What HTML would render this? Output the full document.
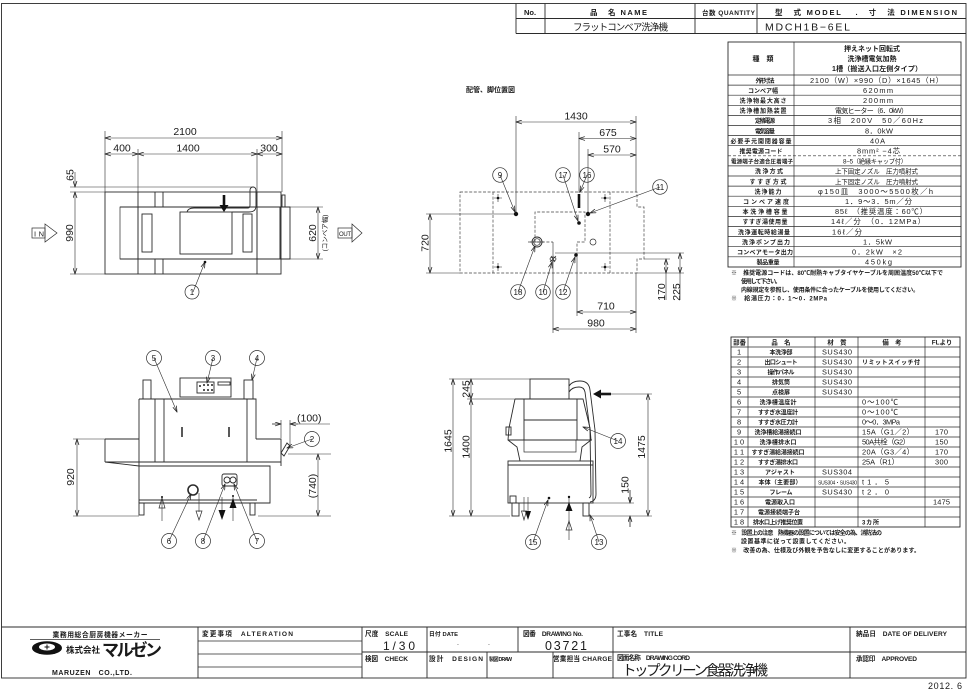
<!DOCTYPE html>
<html><head><meta charset="utf-8">
<style>
html,body{margin:0;padding:0;background:#fff;}
svg{display:block}
.l{stroke:#2b2b2b;stroke-width:.9;fill:none}
.t{stroke:#2b2b2b;stroke-width:.7;fill:none}
.dm{stroke:#2b2b2b;stroke-width:.6;fill:none}
.ds{stroke:#444;stroke-width:.7;fill:none;stroke-dasharray:3 1.6}
text{font-family:"Liberation Sans","Noto Sans CJK JP",sans-serif;fill:#1a1a1a}
.d{font-size:10.5px}
.k{font-size:6px;font-weight:bold}
.v{font-size:7.4px}
.p{font-size:6.4px;font-weight:bold}
.n{font-size:7.4px}
.bl{font-size:8px}
.e{font-size:6.6px;font-weight:bold}
</style></head>
<body>
<svg width="969" height="692" viewBox="0 0 969 692" xmlns="http://www.w3.org/2000/svg">
<defs>
<marker id="a" viewBox="0 0 8 6" refX="8" refY="3" markerWidth="7" markerHeight="4.5" markerUnits="userSpaceOnUse" orient="auto-start-reverse"><path d="M0,0.4 L8,3 L0,5.6" fill="none" stroke="#222" stroke-width="1"/></marker>
<pattern id="m1" width="3" height="3" patternUnits="userSpaceOnUse"><path d="M0,0.5H3M0.5,0V3" stroke="#444" stroke-width="0.5"/></pattern>
<pattern id="m2" width="4" height="4" patternUnits="userSpaceOnUse"><path d="M0,0.5H4M0.5,0V4" stroke="#444" stroke-width="0.5"/></pattern>
</defs>

<!-- frame -->
<rect x="1.5" y="3.5" width="964.5" height="674.5" class="l"/>

<!-- header table -->
<path class="l" d="M516,3.5 V33.5 M545,3.5 V33.5 M695,3.5 V33.5 M757,3.5 V33.5 M516,18.5 H966 M516,33.5 H966"/>
<text x="530" y="15" font-size="7.5" font-weight="bold" text-anchor="middle">No.</text>
<text x="590" y="15" font-size="7.5" font-weight="bold" textLength="57">品　名 NAME</text>
<text x="702" y="15" font-size="6.5" font-weight="bold" textLength="53">台数 QUANTITY</text>
<text x="775" y="15" font-size="7.5" font-weight="bold" textLength="182">型　式 MODEL　 .　寸　法 DIMENSION</text>
<text x="573" y="30.5" font-size="9.5" textLength="95">フラットコンベア洗浄機</text>
<text x="765" y="30.5" font-size="10.5" textLength="85">MDCH1B−6EL</text>

<!-- spec table -->
<rect x="728" y="42" width="233" height="225" class="l"/>
<path class="t" d="M794,42 V267 M728,75 H961 M728,85.1 H961 M728,95.2 H961 M728,105.3 H961 M728,115.4 H961 M728,125.5 H961 M728,135.6 H961 M728,145.7 H961 M728,165.9 H961 M728,176 H961 M728,186.1 H961 M728,196.2 H961 M728,206.3 H961 M728,216.4 H961 M728,226.5 H961 M728,236.6 H961 M728,246.7 H961 M728,256.8 H961"/>
<path d="M728,155.8 H961" stroke="#2b2b2b" stroke-width=".7" stroke-dasharray="3 2"/>
<text x="763" y="61" font-size="7" font-weight="bold" text-anchor="middle">種　類</text>
<text x="872" y="51" font-size="7" font-weight="bold" text-anchor="middle">押えネット回転式</text>
<text x="872" y="61" font-size="7" font-weight="bold" text-anchor="middle">洗浄槽電気加熱</text>
<text x="877" y="71" font-size="7" font-weight="bold" text-anchor="middle" textLength="90">1槽（搬送入口左側タイプ）</text>

<g class="k" text-anchor="middle">
<text x="765" y="82.8" textLength="19">外形寸法</text>
<text x="763" y="92.9" textLength="30">コンベア幅</text>
<text x="763" y="103" textLength="47">洗浄物最大高さ</text>
<text x="763" y="113.1" textLength="47">洗浄槽加熱装置</text>
<text x="765" y="123.2" textLength="20">定格電源</text>
<text x="765" y="133.3" textLength="20">電気容量</text>
<text x="761" y="143.4" textLength="61">必要手元開閉器容量</text>
<text x="761" y="153.5" textLength="43">推奨電源コード</text>
<text x="762" y="163.6" textLength="62" font-size="5.5">電源端子台適合圧着端子</text>
<text x="769" y="173.7" textLength="28">洗浄方式</text>
<text x="768" y="183.8" textLength="37">すすぎ方式</text>
<text x="768" y="193.9" textLength="27">洗浄能力</text>
<text x="766" y="204" textLength="46">コンベア速度</text>
<text x="765" y="214.1" textLength="45">本洗浄槽容量</text>
<text x="765" y="224.2" textLength="45">すすぎ湯使用量</text>
<text x="764" y="234.3" textLength="52">洗浄運転時給湯量</text>
<text x="766" y="244.4" textLength="48">洗浄ポンプ出力</text>
<text x="765" y="254.5" textLength="56">コンベアモータ出力</text>
<text x="768" y="264.6" textLength="23">製品重量</text>
</g>
<g class="v">
<text x="810" y="82.8" textLength="133">2100（W）×990（D）×1645（H）</text>
<text x="863" y="92.9" textLength="30">620mm</text>
<text x="863" y="103" textLength="30">200mm</text>
<text x="835" y="113.1" textLength="73" font-size="7">電気ヒーター（6．0kW）</text>
<text x="828" y="123.2" textLength="95">3相　200V　50／60Hz</text>
<text x="865" y="133.3" textLength="28">8．0kW</text>
<text x="870" y="143.4" textLength="15">40A</text>
<text x="857" y="153.5" textLength="43">8mm² −4芯</text>
<text x="843" y="163.6" textLength="64" font-size="6.3">8−5（絶縁キャップ付）</text>
<text x="835" y="173.7" textLength="83" font-size="6.5">上下固定ノズル　圧力噴射式</text>
<text x="835" y="183.8" textLength="83" font-size="6.5">上下固定ノズル　圧力噴射式</text>
<text x="818" y="193.9" textLength="115">φ150皿　3000〜5500枚／h</text>
<text x="845" y="204" textLength="67">1．9〜3．5m／分</text>
<text x="835" y="214.1" textLength="92">85ℓ　（推奨温度：60℃）</text>
<text x="831" y="224.2" textLength="94">14ℓ／分　（0．12MPa）</text>
<text x="832" y="234.3" textLength="30">16ℓ／分</text>
<text x="863" y="244.4" textLength="29">1．5kW</text>
<text x="852" y="254.5" textLength="50">0．2kW　×2</text>
<text x="865" y="264.6" textLength="27">450kg</text>
</g>
<g class="k">
<text x="731" y="275" textLength="212">※　推奨電源コードは、80℃耐熱キャブタイヤケーブルを周囲温度50℃以下で</text>
<text x="741" y="283.5" textLength="40">使用して下さい。</text>
<text x="741" y="292" textLength="178">内線規定を参照し、使用条件に合ったケーブルを使用してください。</text>
<text x="731" y="300.5" textLength="96">※　給湯圧力：0．1〜0．2MPa</text>
</g>

<!-- parts table -->
<rect x="731" y="337" width="229" height="190" class="l"/>
<path class="t" d="M748,337 V527 M815,337 V527 M858,337 V527 M925,337 V527 M731,347 H960 M731,357 H960 M731,367 H960 M731,377 H960 M731,387 H960 M731,397 H960 M731,407 H960 M731,417 H960 M731,427 H960 M731,437 H960 M731,447 H960 M731,457 H960 M731,467 H960 M731,477 H960 M731,487 H960 M731,497 H960 M731,507 H960 M731,517 H960"/>
<g class="p" text-anchor="middle">
<text x="739.5" y="344.6">部番</text><text x="781" y="344.6">品　名</text><text x="837" y="344.6">材　質</text><text x="892" y="344.6">備　考</text><text x="942" y="344.6">FLより</text>
</g>
<g class="n" text-anchor="middle">
<text x="739" y="354.6">1</text><text x="739" y="364.6">2</text><text x="739" y="374.6">3</text><text x="739" y="384.6">4</text><text x="739" y="394.6">5</text><text x="739" y="404.6">6</text><text x="739" y="414.6">7</text><text x="739" y="424.6">8</text><text x="739" y="434.6">9</text>
<text x="739" y="444.6">1 0</text><text x="739" y="454.6">1 1</text><text x="739" y="464.6">1 2</text><text x="739" y="474.6">1 3</text><text x="739" y="484.6">1 4</text><text x="739" y="494.6">1 5</text><text x="739" y="504.6">1 6</text><text x="739" y="514.6">1 7</text><text x="739" y="524.6">1 8</text>
</g>
<g class="k" text-anchor="middle">
<text x="781" y="354.6" textLength="23">本洗浄部</text>
<text x="781" y="364.6" textLength="33">出口シュート</text>
<text x="781" y="374.6" textLength="27">操作パネル</text>
<text x="781" y="384.6" textLength="18">排気筒</text>
<text x="781" y="394.6" textLength="18">点検扉</text>
<text x="778" y="404.6" textLength="37">洗浄槽温度計</text>
<text x="778" y="414.6" textLength="40">すすぎ水温度計</text>
<text x="778" y="424.6" textLength="40">すすぎ水圧力計</text>
<text x="778" y="434.6" textLength="47">洗浄槽給湯接続口</text>
<text x="778" y="444.6" textLength="37">洗浄槽排水口</text>
<text x="778" y="454.6" textLength="53">すすぎ湯給湯接続口</text>
<text x="778" y="464.6" textLength="40">すすぎ湯排水口</text>
<text x="780" y="474.6" textLength="30">アジャスト</text>
<text x="780" y="484.6" textLength="43">本体（主要部）</text>
<text x="781" y="494.6" textLength="23">フレーム</text>
<text x="780" y="504.6" textLength="30">電源取入口</text>
<text x="779" y="514.6" textLength="42">電源接続端子台</text>
<text x="778" y="524.6" textLength="50">排水口上げ推奨位置</text>
</g>
<g class="n">
<text x="822" y="354.6" textLength="30">SUS430</text>
<text x="822" y="364.6" textLength="30">SUS430</text>
<text x="822" y="374.6" textLength="30">SUS430</text>
<text x="822" y="384.6" textLength="30">SUS430</text>
<text x="822" y="394.6" textLength="30">SUS430</text>
<text x="822" y="474.6" textLength="30">SUS304</text>
<text x="818" y="484.6" textLength="39" font-size="5">SUS304・SUS430</text>
<text x="822" y="494.6" textLength="30">SUS430</text>
<text x="862" y="364.6" textLength="58" class="k">リミットスイッチ付</text>
<text x="862" y="404.6" textLength="36">0〜100℃</text>
<text x="862" y="414.6" textLength="36">0〜100℃</text>
<text x="862" y="424.6" textLength="38">0〜0．3MPa</text>
<text x="862" y="434.6" textLength="52">15A（G1／2）</text>
<text x="862" y="444.6" textLength="48">50A共栓（G2）</text>
<text x="862" y="454.6" textLength="52">20A（G3／4）</text>
<text x="862" y="464.6" textLength="37">25A（R1）</text>
<text x="862" y="484.6" textLength="27">t1．5</text>
<text x="862" y="494.6" textLength="27">t2．0</text>
<text x="862" y="524.6" textLength="17" class="k">3カ所</text>
<text x="935" y="434.6" textLength="13">170</text>
<text x="935" y="444.6" textLength="13">150</text>
<text x="935" y="454.6" textLength="13">170</text>
<text x="935" y="464.6" textLength="13">300</text>
<text x="933" y="504.6" textLength="17">1475</text>
</g>
<g class="k">
<text x="731" y="535" textLength="151">※　設置上の注意　熱機器の設置については安全の為、消防法の</text>
<text x="741" y="543.5" textLength="109">設置基準に従って設置してください。</text>
<text x="731" y="552.5" textLength="189">※　改善の為、仕様及び外観を予告なしに変更することがあります。</text>
</g>

<!-- ============ TOP-LEFT PLAN VIEW ============ -->
<path class="dm" d="M105,131 V192 M282,131 V192 M138,149 V192 M257,149 V192 M70,187 H253 M70,192 H105 M70,274 H105 M290,207 H323 M290,259 H323"/>
<path class="dm" d="M105,138 H282" marker-start="url(#a)" marker-end="url(#a)"/>
<path class="dm" d="M105,154 H138" marker-start="url(#a)" marker-end="url(#a)"/>
<path class="dm" d="M138,154 H257" marker-start="url(#a)" marker-end="url(#a)"/>
<path class="dm" d="M257,154 H282" marker-start="url(#a)" marker-end="url(#a)"/>
<path class="dm" d="M75,172 V187" marker-end="url(#a)"/>
<path class="dm" d="M75,192 V274" marker-start="url(#a)" marker-end="url(#a)"/>
<path class="dm" d="M318,207 V259" marker-start="url(#a)" marker-end="url(#a)"/>
<text class="d" x="185" y="135" text-anchor="middle">2100</text>
<text class="d" x="122" y="151.5" text-anchor="middle">400</text>
<text class="d" x="188" y="151.5" text-anchor="middle">1400</text>
<text class="d" x="269" y="151.5" text-anchor="middle">300</text>
<text class="d" transform="translate(73.5,175) rotate(-90)" text-anchor="middle">65</text>
<text class="d" transform="translate(73,233) rotate(-90)" text-anchor="middle">990</text>
<text class="d" transform="translate(316,233) rotate(-90)" text-anchor="middle">620</text>
<text transform="translate(327,233) rotate(-90)" text-anchor="middle" font-size="6.5">(コンベア幅)</text>

<rect x="120" y="207" width="18" height="52" fill="url(#m1)" class="t"/>
<rect x="257" y="207" width="23" height="52" fill="url(#m1)" class="t"/>
<g class="l">
<rect x="105" y="192" width="176" height="82"/>
<path d="M138,192 V274 M257,192 V274 M155,192 V207 M163,192 V207 M155,259 V274 M163,259 V274 M120,207 H290 M120,259 H290"/>
<rect x="280" y="207" width="10" height="52"/>
<rect x="282" y="195" width="3" height="12"/>
<rect x="142" y="214" width="10" height="38"/>
<rect x="243" y="214" width="9" height="38"/>
<rect x="180" y="212" width="52" height="42"/>
<path d="M187,212 Q188,208 194,208 L248,208 Q250,208 250,205 L250,190 A3,3 0 0 1 256,190 L256,206 Q256,212 249,212 L232,212"/>
</g>
<path d="M224,195 V207" stroke="#111" stroke-width="2.6"/>
<path d="M219.5,205 L228.5,205 L224,212 Z" fill="#111"/>
<!-- IN / OUT -->
<rect x="32" y="228" width="13" height="10" class="t"/>
<path d="M45,224 L57,233 L45,242 Z" class="t" fill="#fff"/>
<text x="34" y="236.5" font-size="7.5" textLength="10">IN</text>
<rect x="338" y="228" width="14" height="10" class="t"/>
<path d="M352,224 L362,233 L352,242 Z" class="t" fill="#fff"/>
<text x="339" y="236" font-size="6" textLength="12">OUT</text>
<!-- balloon 1 -->
<path class="dm" d="M193,292 L205,262" marker-end="url(#a)"/>
<circle cx="205" cy="262" r="1.3" fill="#111"/>
<circle cx="192" cy="292" r="7" fill="#fff" class="t"/>
<text class="bl" x="192" y="295" text-anchor="middle">1</text>

<!-- ============ PIPING PLAN ============ -->
<text x="466" y="92" font-size="7" font-weight="bold">配管、脚位置図</text>
<path class="ds" d="M460,192 H637 V207 H644 V259 H637 V273 H460 Z M493,192 V273 M610,192 V273"/>
<path class="ds" d="M535,242 V212 H585 V242 H577 V253 M528,242 H553"/>
<path class="dm" d="M516,116 V214 M579,132 V193 M588,149 V214 M636,116 V192 M636,273 V333 M553,242 V333 M577,253 V316 M426,214 H516 M426,273 H460 M555,253 H684 M644,259 H670 M637,273 H684 M666,273 V300 M680,273 V300"/>
<path class="dm" d="M516,122 H636" marker-start="url(#a)" marker-end="url(#a)"/>
<path class="dm" d="M579,138.5 H636" marker-start="url(#a)" marker-end="url(#a)"/>
<path class="dm" d="M588,155 H636" marker-start="url(#a)" marker-end="url(#a)"/>
<path class="dm" d="M577,312 H636" marker-start="url(#a)" marker-end="url(#a)"/>
<path class="dm" d="M553,329 H636" marker-start="url(#a)" marker-end="url(#a)"/>
<path class="dm" d="M430,214 V273" marker-start="url(#a)" marker-end="url(#a)"/>
<path class="dm" d="M666,259 V273" marker-start="url(#a)" marker-end="url(#a)"/>
<path class="dm" d="M680,253 V273" marker-start="url(#a)" marker-end="url(#a)"/>
<text class="d" x="576" y="119.5" text-anchor="middle">1430</text>
<text class="d" x="608" y="136" text-anchor="middle">675</text>
<text class="d" x="612" y="152.5" text-anchor="middle">570</text>
<text class="d" x="606" y="309.5" text-anchor="middle">710</text>
<text class="d" x="596" y="326.5" text-anchor="middle">980</text>
<text class="d" transform="translate(428.5,243) rotate(-90)" text-anchor="middle">720</text>
<text class="d" transform="translate(665,292) rotate(-90)" text-anchor="middle">170</text>
<text class="d" transform="translate(680,292) rotate(-90)" text-anchor="middle">225</text>
<!-- legs -->
<g class="dm">
<path d="M494,198 H502 M498,194 V202 M601,198 H609 M605,194 V202 M494,267 H502 M498,263 V271 M601,267 H609 M605,263 V271"/>
</g>
<circle cx="498" cy="198" r="1.3" fill="#111"/><circle cx="605" cy="198" r="1.3" fill="#111"/><circle cx="498" cy="267" r="1.3" fill="#111"/><circle cx="605" cy="267" r="1.3" fill="#111"/>
<circle cx="516" cy="214" r="2.2" fill="#111"/>
<circle cx="588" cy="214" r="2.2" fill="#111"/>
<circle cx="579" cy="223" r="1.8" fill="#111"/>
<path d="M579,194 V208" stroke="#111" stroke-width="2.6"/>
<circle cx="537" cy="242" r="5" class="l"/><circle cx="537" cy="242" r="3.3" class="t"/>
<path class="dm" d="M530,242 H544"/>
<circle cx="593" cy="242" r="3" class="t"/>
<circle cx="576" cy="255" r="1.8" fill="#111"/>
<ellipse cx="553" cy="259" rx="3" ry="2" class="t"/><path class="t" d="M550,262 L556,256 M551,256 L555,262"/>
<!-- leaders -->
<path class="dm" d="M500,175 L515,212" marker-end="url(#a)"/>
<path class="dm" d="M563,175 L578,221" marker-end="url(#a)"/>
<path class="dm" d="M587,175 L580,192" marker-end="url(#a)"/>
<path class="dm" d="M660,187 L590,213" marker-end="url(#a)"/>
<path class="dm" d="M518,292 L535,246" marker-end="url(#a)"/>
<path class="dm" d="M543,292 L552,262" marker-end="url(#a)"/>
<path class="dm" d="M563,292 L575,257" marker-end="url(#a)"/>
<g class="t" fill="#fff">
<circle cx="500" cy="175" r="7.3"/><circle cx="563" cy="175" r="7.3"/><circle cx="587" cy="175" r="7.3"/><circle cx="660" cy="187" r="7.3"/><circle cx="518" cy="292" r="7.3"/><circle cx="543" cy="292" r="7.3"/><circle cx="563" cy="292" r="7.3"/>
</g>
<g class="bl" text-anchor="middle">
<text x="500" y="178">9</text><text x="563" y="178">17</text><text x="587" y="178">16</text><text x="660" y="190">11</text><text x="518" y="295">18</text><text x="543" y="295">10</text><text x="563" y="295">12</text>
</g>

<!-- ============ FRONT VIEW ============ -->
<g class="l">
<rect x="180" y="378" width="51" height="19"/>
<rect x="197" y="382" width="17" height="11"/>
<rect x="218" y="382" width="12" height="3"/>
<rect x="143" y="380" width="8" height="19"/>
<rect x="244" y="380" width="9" height="19"/>
<path d="M139,399 H256 V439 M139,399 V503 M105,439 H139 M256,439 H281 V466 M105,439 V462 M105,462 H281 M105,462 L139,466 M139,466 H270 V503 H139 M139,500 H257"/>
<path d="M155,399 V462 M164,399 V462 M247,399 V462"/>
<rect x="139" y="503" width="5" height="12"/>
<rect x="250" y="503" width="5" height="12"/>
<rect x="222" y="474" width="15" height="12" rx="2"/>
<circle cx="227" cy="480" r="3"/><circle cx="233" cy="480" r="3"/>
<circle cx="193" cy="490" r="5" stroke-width="1.6"/>
<path d="M281,453 L287,443 L290,446 L284,456 Z"/>
</g>
<g fill="#222"><circle cx="200" cy="386" r="1"/><circle cx="204" cy="385" r="1"/><circle cx="208" cy="385" r="1"/><circle cx="212" cy="385" r="1"/><circle cx="204" cy="390" r="1"/><circle cx="208" cy="390" r="1"/><circle cx="212" cy="390" r="1"/></g>
<path d="M182,427 V437 M229,427 V437" stroke="#222" stroke-width="1.5"/>
<!-- bottom arrows -->
<path class="dm" d="M162,497 V521 M199,493 V512 M222,497 V512 M233,497 V521"/>
<path d="M162,498 L159,508 L165,508 Z" fill="#fff" class="t"/>
<path d="M199,520 L196,511 L202,511 Z" fill="#fff" class="t"/>
<path d="M222,520 L218.5,510 L225.5,510 Z" fill="#111"/>
<path d="M233,498 L229.5,508 L236.5,508 Z" fill="#111"/>
<circle cx="162" cy="497" r="1" fill="#111"/><circle cx="233" cy="496" r="1" fill="#111"/>
<!-- dims -->
<path class="dm" d="M73,439 H105 M73,516 H139 M258,516 H331 M288,454 H331 M281,420 V438 M290,420 V446 M272,424 H281 M290,424 H330"/>
<path class="dm" d="M77,439 V516" marker-start="url(#a)" marker-end="url(#a)"/>
<path class="dm" d="M318,454 V516" marker-start="url(#a)" marker-end="url(#a)"/>
<path class="dm" d="M272,424 H281" marker-end="url(#a)"/>
<path class="dm" d="M298,424 H290" marker-end="url(#a)"/>
<text class="d" transform="translate(74,477) rotate(-90)" text-anchor="middle">920</text>
<text class="d" transform="translate(316,486) rotate(-90)" text-anchor="middle">(740)</text>
<text class="d" x="297" y="421.5">(100)</text>
<!-- leaders & balloons -->
<path class="dm" d="M154,358 L177,412" marker-end="url(#a)"/>
<path class="dm" d="M213,358 L207,383" marker-end="url(#a)"/>
<path class="dm" d="M257,358 L252,380" marker-end="url(#a)"/>
<path class="dm" d="M312,439 L287,448" marker-end="url(#a)"/>
<path class="dm" d="M169,541 L191,494" marker-end="url(#a)"/>
<path class="dm" d="M203,541 L225,484" marker-end="url(#a)"/>
<path class="dm" d="M257,541 L234,484" marker-end="url(#a)"/>
<g class="t" fill="#fff">
<circle cx="154" cy="358" r="7.5"/><circle cx="213" cy="358" r="7.5"/><circle cx="257" cy="358" r="7.5"/><circle cx="312" cy="439" r="7.5"/><circle cx="169" cy="541" r="7.5"/><circle cx="203" cy="541" r="7.5"/><circle cx="257" cy="541" r="7.5"/>
</g>
<g class="bl" text-anchor="middle">
<text x="154" y="361">5</text><text x="213" y="361">3</text><text x="257" y="361">4</text><text x="312" y="442">2</text><text x="169" y="544">6</text><text x="203" y="544">8</text><text x="257" y="544">7</text>
</g>

<!-- ============ SIDE VIEW ============ -->
<rect x="524" y="440" width="52" height="12" fill="url(#m2)" class="t"/>
<g class="l">
<rect x="530" y="379" width="39" height="20"/>
<path d="M515,399 H583 L590,428 L591,440 L582,447 L580,461 M515,399 L509,428 L508,440 L517,447 L520,461 M508,440 H592"/>
<path d="M524,399 V440 M577,399 V440 M524,420 H577"/>
<rect x="508" y="461" width="85" height="42"/>
<path d="M508,465 H593"/>
<rect x="512" y="503" width="7" height="13"/>
<rect x="583" y="503" width="6" height="13"/>
<rect x="510" y="496" width="6" height="7"/>
<rect x="506" y="427" width="5" height="8"/>
<path d="M569,386 Q572,381 580,381 Q589,381 590,390 L595,430 L596,494 Q596,501 590,502"/>
<path d="M569,392 Q572,387 579,387 Q584,387 585,392 L590,430 L591,494 Q591,497 589,498"/>
</g>
<path d="M611,394 H600" stroke="#111" stroke-width="2.6"/>
<path d="M593,394 L601,389.5 L601,398.5 Z" fill="#111"/>
<circle cx="549" cy="498" r="1.3" fill="#111"/>
<!-- arrows -->
<path class="dm" d="M524,497 V512 M528,497 V512 M569,497 V540"/>
<path d="M524,520 L521.5,511 L526.5,511 Z" fill="#fff" class="t"/>
<path d="M528,520 L525,511 L531,511 Z" fill="#111"/>
<path d="M569,502 L565.5,511 L572.5,511 Z" fill="#111"/>
<path d="M569,521 L566,530 L572,530 Z" fill="#fff" class="t"/>
<circle cx="569" cy="497" r="1.2" fill="#111"/>
<!-- dims -->
<path class="dm" d="M449,379 H530 M467,399 H515 M449,516 H510 M600,394 H652 M593,503 H634 M590,516 H652 M630,490 V503 M630,516 V527"/>
<path class="dm" d="M453,379 V516" marker-start="url(#a)" marker-end="url(#a)"/>
<path class="dm" d="M471,379 V399" marker-start="url(#a)" marker-end="url(#a)"/>
<path class="dm" d="M471,399 V516" marker-start="url(#a)" marker-end="url(#a)"/>
<path class="dm" d="M648,394 V516" marker-start="url(#a)" marker-end="url(#a)"/>
<path class="dm" d="M630,490 V503" marker-end="url(#a)"/>
<path class="dm" d="M630,527 V516" marker-end="url(#a)"/>
<text class="d" transform="translate(451.5,441) rotate(-90)" text-anchor="middle">1645</text>
<text class="d" transform="translate(469.5,389) rotate(-90)" text-anchor="middle">245</text>
<text class="d" transform="translate(469.5,447) rotate(-90)" text-anchor="middle">1400</text>
<text class="d" transform="translate(645,447) rotate(-90)" text-anchor="middle">1475</text>
<text class="d" transform="translate(628.5,485) rotate(-90)" text-anchor="middle">150</text>
<path class="dm" d="M618,441 L583,427" marker-end="url(#a)"/>
<path class="dm" d="M533,542 L548,500" marker-end="url(#a)"/>
<path class="dm" d="M599,542 L590,515" marker-end="url(#a)"/>
<g class="t" fill="#fff"><circle cx="618" cy="441" r="7.5"/><circle cx="533" cy="542" r="7.5"/><circle cx="599" cy="542" r="7.5"/></g>
<g class="bl" text-anchor="middle"><text x="618" y="444">14</text><text x="533" y="545">15</text><text x="599" y="545">13</text></g>

<!-- ============ TITLE BLOCK ============ -->
<path class="l" d="M1.5,627 H966 M198,627 V678 M362,627 V678 M427,627 V678 M518,627 V652 M613,627 V678 M850,627 V678 M362,652 H966 M487,652 V678 M553,652 V678"/>
<path class="t" d="M198,641 H362 M198,654 H362 M198,667 H362"/>
<text x="100" y="637" font-size="6.8" font-weight="bold" text-anchor="middle" textLength="95">業務用総合厨房機器メーカー</text>
<path class="t" d="M30,639.5 H160"/>
<ellipse cx="47" cy="648" rx="15" ry="6.8" fill="#111"/>
<ellipse cx="47" cy="647" rx="8" ry="3.5" fill="#fff"/>
<path d="M47,644.5 V649.5 M44.5,647 H49.5" stroke="#111" stroke-width="1"/>
<text x="66" y="653" font-size="8.5" font-weight="bold" textLength="34">株式会社</text>
<text x="102" y="656" font-size="17" font-weight="bold" textLength="60" font-family="'Noto Sans CJK JP',sans-serif">マルゼン</text>
<text x="52" y="675" font-size="7" font-weight="bold" textLength="80">MARUZEN　CO.,LTD.</text>
<text x="202" y="636" class="e" textLength="91">変更事項　ALTERATION</text>
<text x="365" y="636" class="e" textLength="43">尺度　SCALE</text>
<text x="383" y="650" font-size="12" textLength="32">1/30</text>
<text x="365" y="661" class="e" textLength="43">検図　CHECK</text>
<text x="429" y="636" font-size="5.8" font-weight="bold" textLength="29">日付 DATE</text>
<text x="457" y="645" font-size="7">.</text><text x="488" y="645" font-size="7">.</text>
<text x="429" y="661" class="e" textLength="54">設計　DESIGN</text>
<text x="489" y="661" font-size="5.2" font-weight="bold" textLength="23">製図 DRAW</text>
<text x="523" y="636" class="e" textLength="60">図番　DRAWING No.</text>
<text x="545" y="650" font-size="12.5" textLength="42">03721</text>
<text x="553" y="661" class="e" textLength="59">営業担当 CHARGE</text>
<text x="617" y="636" class="e" textLength="46">工事名　TITLE</text>
<text x="617" y="660" class="e" textLength="73" font-size="6">図面名称　DRAWING CORD</text>
<text x="622" y="675.5" font-size="14.5" textLength="146">トップクリーン食器洗浄機</text>
<text x="856" y="636" class="e" textLength="91">納品日　DATE OF DELIVERY</text>
<text x="856" y="661" class="e" textLength="61">承認印　APPROVED</text>
<text x="928" y="689" font-size="9" textLength="34">2012. 6</text>
</svg>
</body></html>
